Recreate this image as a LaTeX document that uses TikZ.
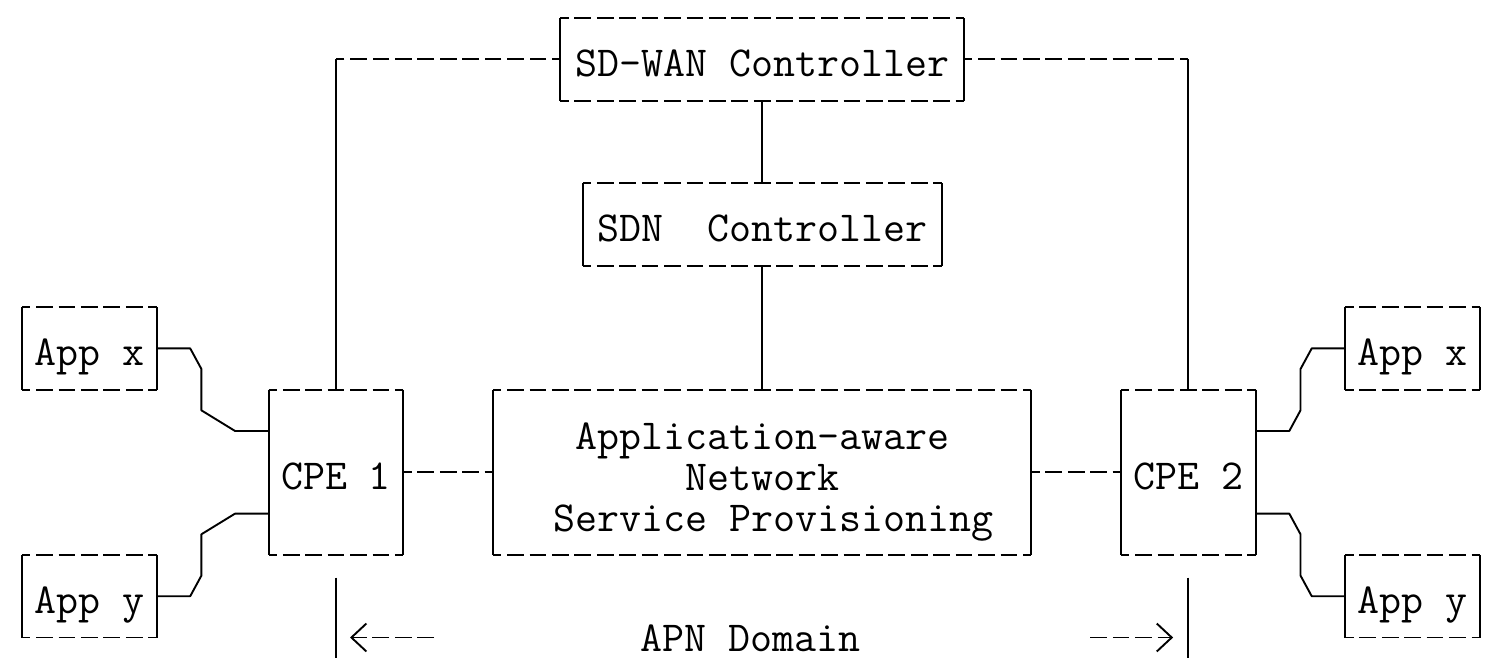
\documentclass[tikz,border=0pt]{standalone}
\usepackage{fontspec}
\usetikzlibrary{calc,arrows.meta}
\begin{document}
\begin{tikzpicture}[x=11.215pt,y=20.65pt,
  every node/.style={font=\fontsize{21.36pt}{20.65pt}\selectfont\ttfamily, inner sep=0pt, outer sep=0pt},
  box/.style={rectangle, text height=17pt, text depth=0pt},
  multibox/.style={rectangle, align=center},
  hl/.style={line width=0.95pt, dash pattern=on 8.35pt off 2.865pt, dash phase=4.175pt},
  vl/.style={line width=0.95pt},
  link/.style={line width=0.95pt, line join=round},
  domarrow/.style={line width=0.95pt, dash pattern=on 8.35pt off 2.865pt, dash phase=0pt,
    -{Straight Barb[length=7.5pt,width=14pt]}}
]
\path[use as bounding box, fill=white] (-0.981,0.436) rectangle (65.36,-15.52);

% boxes
\node[box, minimum width=201.87pt, minimum height=41.3pt] (sdwan) at (33,-1) {SD-WAN Controller};
\node[box, minimum width=179.44pt, minimum height=41.3pt] (sdn) at (33,-5) {SDN~~Controller};
\node[box, minimum width=67.29pt, minimum height=41.3pt] (appxl) at (3,-8) {App x};
\node[box, minimum width=67.29pt, minimum height=41.3pt] (appyl) at (3,-14) {App y};
\node[box, minimum width=67.29pt, minimum height=41.3pt] (appxr) at (62,-8) {App x};
\node[box, minimum width=67.29pt, minimum height=41.3pt] (appyr) at (62,-14) {App y};
\node[box, minimum width=67.29pt, minimum height=82.6pt] (cpe1) at (14,-11) {CPE 1};
\node[box, minimum width=67.29pt, minimum height=82.6pt] (cpe2) at (52,-11) {CPE 2};
\node[multibox, minimum width=269.16pt, minimum height=82.6pt] (apn) at (33,-11)
  {\rule{0pt}{23pt}Application-aware\\Network\\\phantom{x}Service Provisioning};
\node[box, yshift=1.5pt] (dom) at (32.5,-15) {APN Domain};

\foreach \n in {sdwan,sdn,appxl,appyl,appxr,appyr,cpe1,cpe2,apn}{
  \draw[hl] (\n.north west) -- (\n.north east);
  \draw[hl] (\n.south west) -- (\n.south east);
  \draw[vl] (\n.north west) -- (\n.south west);
  \draw[vl] (\n.north east) -- (\n.south east);
}

% controller links
\coordinate (c1top) at (sdwan.west -| cpe1.north);
\coordinate (c2top) at (sdwan.east -| cpe2.north);
\draw[hl] (sdwan.west) -- (c1top);
\draw[vl] (c1top) -- (cpe1.north);
\draw[hl] (sdwan.east) -- (c2top);
\draw[vl] (c2top) -- (cpe2.north);
\draw[vl] (sdwan.south) -- (sdn.north);
\draw[vl] (sdn.south) -- (apn.north);

% CPE to network
\draw[hl] (cpe1.east) -- (apn.west);
\draw[hl] (apn.east) -- (cpe2.west);

% applications to CPEs
\coordinate (c1a) at ($(cpe1.north west)!0.25!(cpe1.south west)$);
\coordinate (c1b) at ($(cpe1.north west)!0.75!(cpe1.south west)$);
\coordinate (c2a) at ($(cpe2.north east)!0.25!(cpe2.south east)$);
\coordinate (c2b) at ($(cpe2.north east)!0.75!(cpe2.south east)$);
\draw[link] (appxl.east) -- ++(1.5,0) -- ++(0.5,-0.5) -- ++(0,-1) -- ++(1.5,-0.5) -- (c1a);
\draw[link] (appyl.east) -- ++(1.5,0) -- ++(0.5,0.5) -- ++(0,1) -- ++(1.5,0.5) -- (c1b);
\draw[link] (appxr.west) -- ++(-1.5,0) -- ++(-0.5,-0.5) -- ++(0,-1) -- ++(-0.5,-0.5) -- (c2a);
\draw[link] (appyr.west) -- ++(-1.5,0) -- ++(-0.5,0.5) -- ++(0,1) -- ++(-0.5,0.5) -- (c2b);

% APN domain markers
\coordinate (dltop) at ($(cpe1.south)+(0,-0.55)$);
\coordinate (dlbot) at ($(cpe1.south)+(0,-2.5)$);
\coordinate (dltip) at ($(cpe1.south)+(0,-2)$);
\coordinate (dltail) at ($(dltip)+(4.37,0)$);
\coordinate (drtop) at ($(cpe2.south)+(0,-0.55)$);
\coordinate (drbot) at ($(cpe2.south)+(0,-2.5)$);
\coordinate (drtip) at ($(cpe2.south)+(0,-2)$);
\coordinate (drtail) at ($(drtip)+(-4.37,0)$);
\draw[vl] (dltop) -- (dlbot);
\draw[vl] (drtop) -- (drbot);
\draw[domarrow, shorten >=7pt] (dltail) -- (dltip);
\draw[domarrow, shorten >=7.6pt] (drtail) -- (drtip);
\end{tikzpicture}
\end{document}
